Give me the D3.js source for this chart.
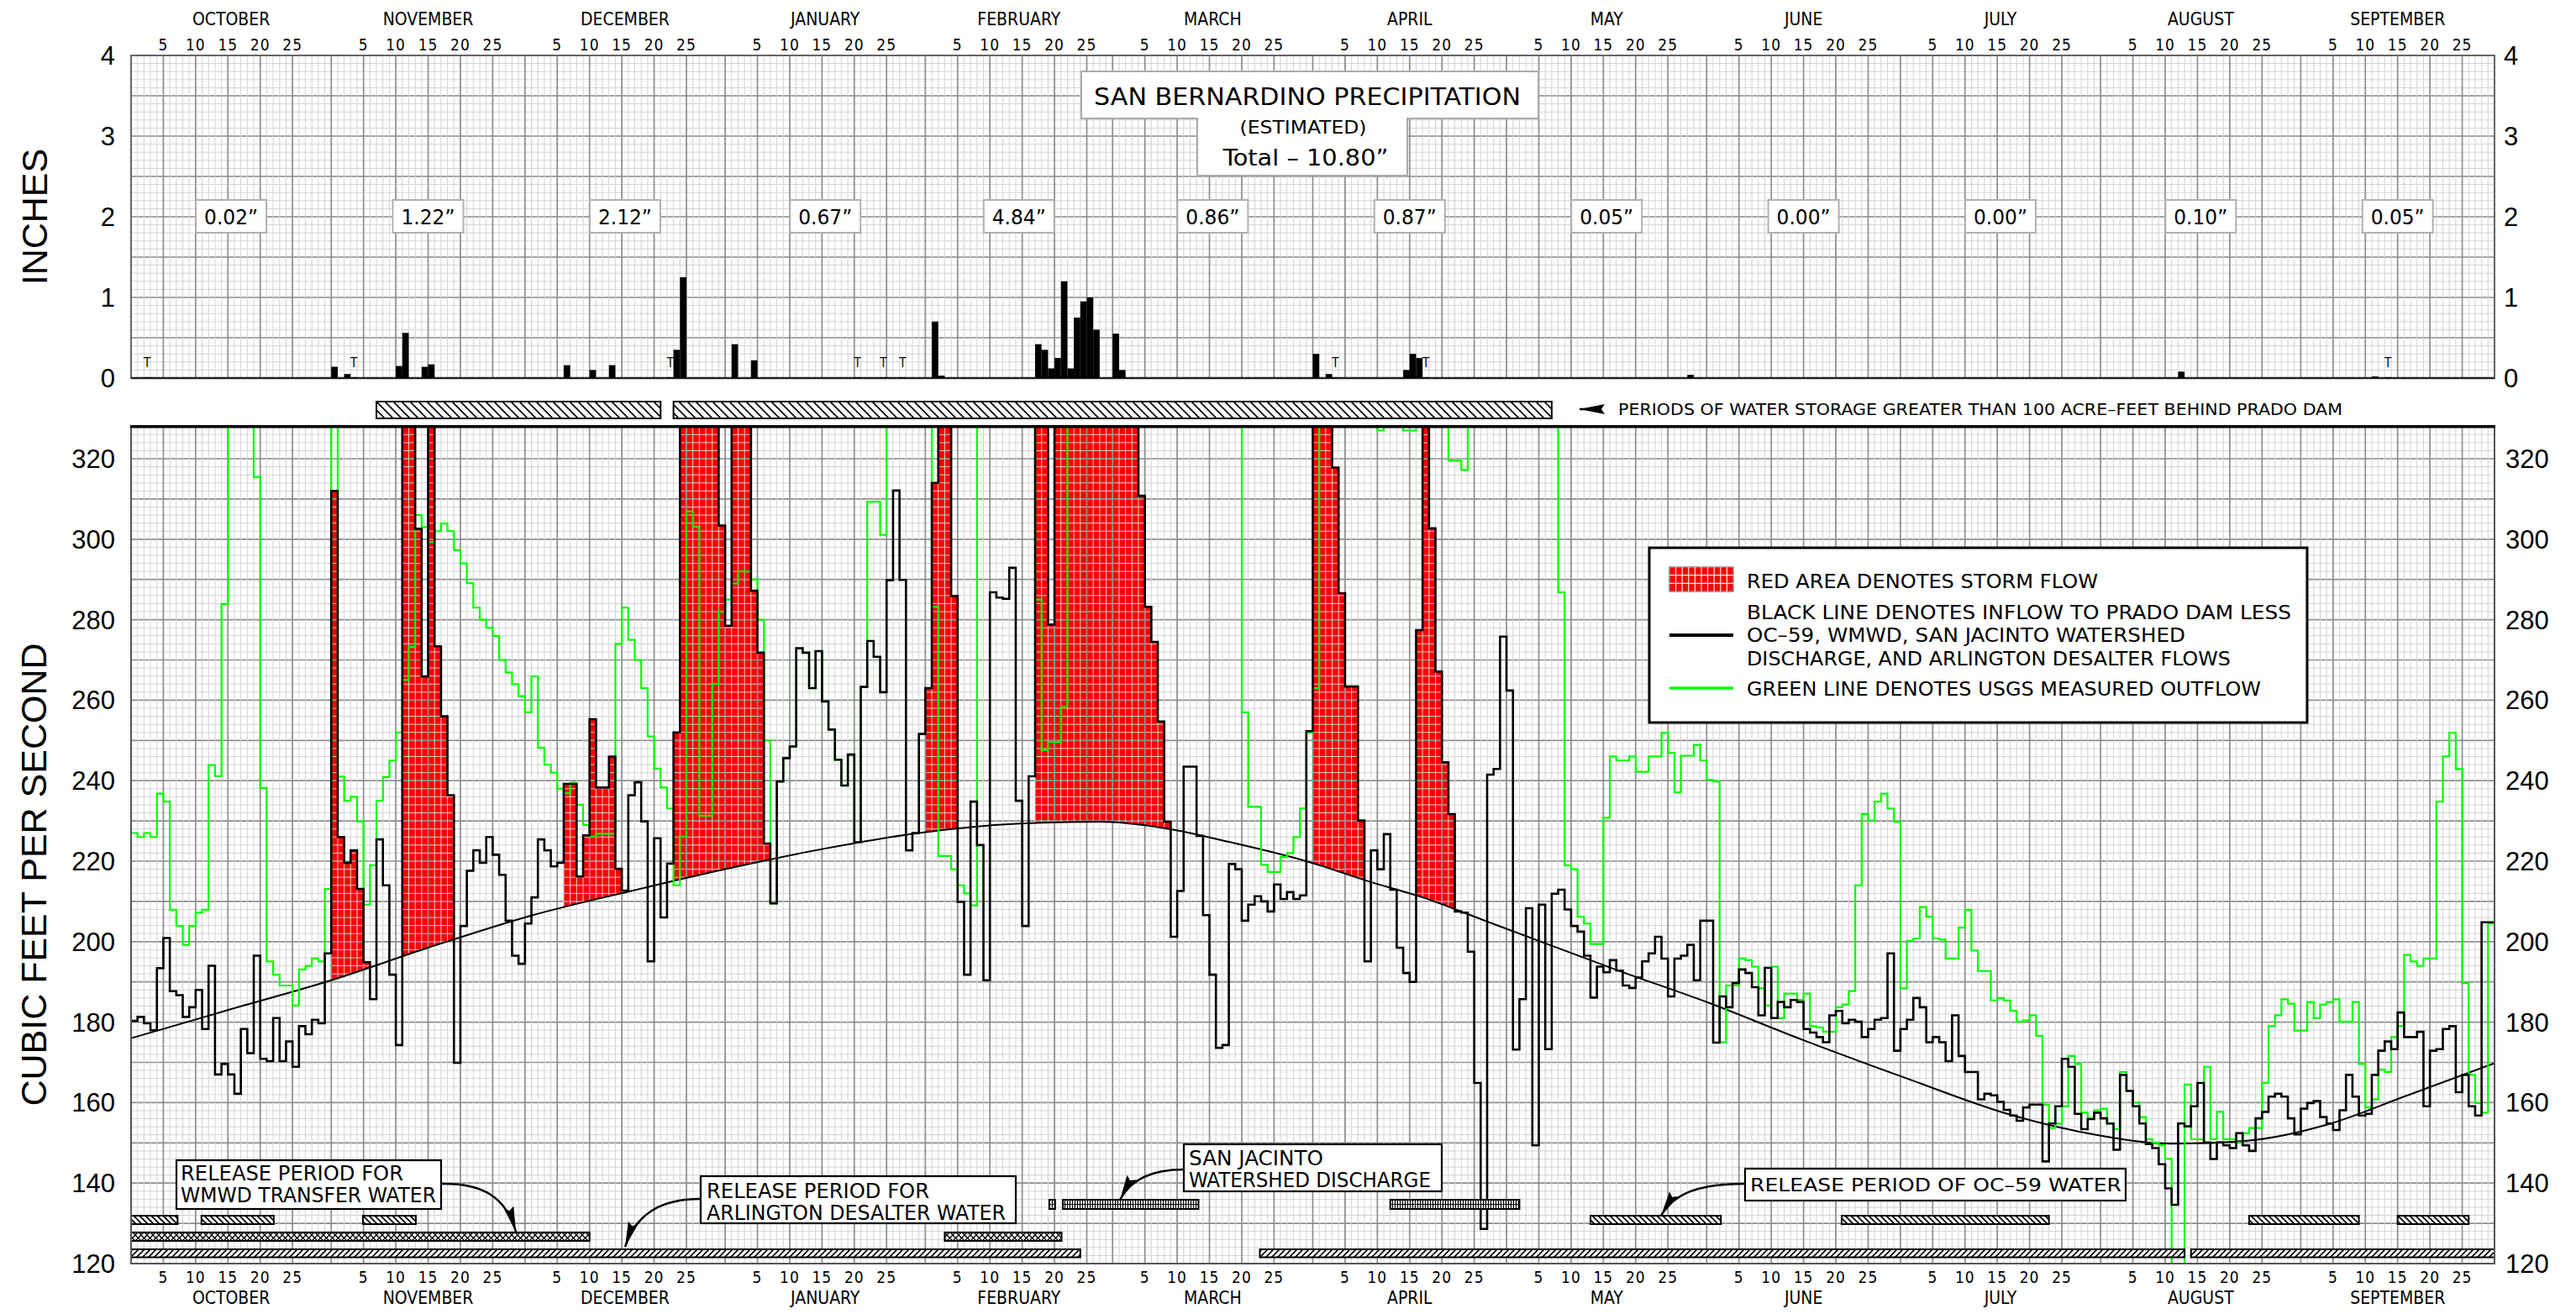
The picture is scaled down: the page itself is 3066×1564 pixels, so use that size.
<!DOCTYPE html>
<html><head><meta charset="utf-8">
<script src="https://cdn.jsdelivr.net/npm/d3@7"></script>
<style>body{margin:0;background:#fff}svg{display:block}</style>
</head><body>
<svg id="c" width="3066" height="1564"></svg>
<script>
// ---------------- DATA ----------------
const monthNames=["OCTOBER","NOVEMBER","DECEMBER","JANUARY","FEBRUARY","MARCH","APRIL","MAY","JUNE","JULY","AUGUST","SEPTEMBER"];
const monthLengths=[31,30,31,31,29,31,30,31,30,31,31,30];
const dayTicks=[5,10,15,20,25];
const monthTotals=["0.02\u201D","1.22\u201D","2.12\u201D","0.67\u201D","4.84\u201D","0.86\u201D","0.87\u201D","0.05\u201D","0.00\u201D","0.00\u201D","0.10\u201D","0.05\u201D"];
const inchTicks=[0,1,2,3,4];
const cfsTicks=[120,140,160,180,200,220,240,260,280,300,320];

// daily precipitation (day index from Oct 1, inches)
const precipDay=[2,31,33,34,41,42,45,46,67,71,74,83,84,85,93,96,112,116,119,124,125,140,141,142,143,144,145,146,147,148,149,152,153,183,185,186,197,198,199,200,241,317,347,349];
const precipAmt=[0.01,0.14,0.05,0.01,0.15,0.56,0.14,0.17,0.16,0.10,0.16,0.01,0.35,1.25,0.42,0.22,0.01,0.01,0.01,0.70,0.03,0.42,0.35,0.12,0.25,1.20,0.12,0.75,0.95,1.00,0.60,0.55,0.10,0.30,0.05,0.01,0.10,0.30,0.25,0.01,0.04,0.08,0.02,0.01];
const traceDays=[2,34,83,112,116,119,186,200,349];

// daily inflow (black line), cfs; 400 = off scale
const inflow=[
180.3,181.3,179.7,178,193.4,200.9,187.7,186.7,181.3,183.7,188,178.3,194,167,169.6,167,162.2,178.3,172.3,196.5,170.9,170.3,181,170.3,175.2,168.9,179,177,180.6,179.7,197.1,
312,226,219.6,222.7,213.1,194.9,185.7,225.4,214,191.8,174.3,400,400,302.6,265.9,400,273.4,256,236.4,169.9,203.9,217.6,222.7,219.6,226,221.6,216.6,205.2,196.5,194.5,
204.5,211,225.4,222.7,218.7,219.6,239.2,239.2,216.2,226.4,255.3,238.3,238.3,246,218.1,212.7,236.4,239.6,229.9,195.1,225.7,206,219.4,252,400,400,400,400,400,400,303.4,
278.5,400,400,400,287.2,271.8,224.4,209.5,239.8,245.6,248.5,272.9,271.8,263,272.2,259.7,252.7,245.2,238.8,246.5,224.7,263.3,274.7,270.8,262,289.8,312.1,289.9,222.7,227,
251.6,263,314,400,400,285.9,209.9,191.8,234.8,224,190.4,286.8,285.5,285.2,292.9,235,203.9,241.1,400,400,278.8,400,400,400,400,400,400,400,400,400,
400,400,400,400,310.8,283.2,274.5,254.7,229.8,201.2,212.6,243.5,243.5,226.3,206.6,191.8,173.6,174.3,219.3,218,205.2,209.2,211.3,210,207.5,214.2,210.6,212.3,210.6,211.5,252.3,
400,400,400,317.8,286.6,263.4,263.4,230.1,195.1,222.7,218,226.7,212.9,198.5,192.2,190,277.4,400,302.7,267.1,244.6,231.7,207.5,207.2,197.5,164.9,128.6,241.5,242.9,275.8,
262.4,173.2,185.7,208.3,149.4,209.2,173.3,211.9,212.9,208,203.9,202.5,196.5,186.1,193.8,192.4,195.4,192.8,189.1,188.5,191.1,195.1,197.1,201.2,195.8,186.4,195.8,196.5,199.2,190.4,205.2,
205.2,174.9,186.4,183.7,189.7,193.1,192.2,188.7,181.7,193.5,181,185,183.7,185.5,185,178.3,177.4,176.3,175,181.7,182.8,179.7,180.6,180.1,176.3,178.3,180.6,181,197.1,172.9,
178.3,180.6,186,183.7,175,176.3,175,170.3,181.7,171.6,167.6,167.6,160.8,162.2,161.8,160.2,158.2,156.8,155.5,158.8,159.5,159.5,145.4,154.8,159.1,170.9,168.9,157.2,153.4,155.9,157.5,
156.1,154.8,148.3,166.9,162.9,159.1,154.8,149.7,148.7,144.7,138.7,134.6,154.8,154.1,159.1,164.9,150.1,146,150.1,149.4,148.7,152.4,149.4,148,156.1,157.7,161.5,162.2,161.5,156.1,152.1,
158.5,159.9,160.4,156.4,154.8,153.2,158.1,166.9,161.5,156.8,157.2,166.9,172.9,175.2,173.3,182.4,176.3,176.3,177.6,159.1,172.9,173.3,178.3,179,162.6,166.9,159.1,156.8,204.8,204.8];

// daily USGS measured outflow (green line), cfs; 400 = off scale
const outflow=[
227,226,227,226,236.8,234.8,207.9,203.9,199.2,203.9,207.2,207.9,243.9,241.1,283.9,400,400,400,400,315.5,238.2,195.1,191.8,189.1,189.1,184.1,193.1,194,195.8,195.1,213.1,
400,241,235,236,229.9,209.2,219,235,240.9,245,252,265,273.2,306,303,299.3,302,303.9,302,297.3,294,289.1,283,280,278,276,270,266.9,264,261,
257,265.9,248.2,244,242,238,236.9,239.5,234,229,226.1,226.8,226.8,226.8,274,283,275,270,263,251,243,238.3,233.1,214,226.1,306.9,303.1,231.3,231.3,264,282,
285,289,292,292,290,280,250,209.5,239.8,245.6,248.5,272.9,271.8,263,272.2,259.7,252.7,245.2,238.8,246.5,224.7,263.3,309.3,309.3,301.1,400,400,400,400,400,
400,400,283.2,221.3,221.3,218,214,212,209,400,400,400,400,400,400,400,400,400,285,247.6,249.6,249.6,258.3,400,400,400,400,400,400,400,
400,400,400,400,400,400,400,400,400,400,400,400,400,400,400,400,400,400,400,400,257,233.5,233.5,219.1,217.3,217.3,221,222,226,233.1,251.9,
263,400,400,400,400,400,400,400,400,400,327,400,400,400,327,327,400,400,400,400,400,319.5,319.5,317.2,400,400,400,400,400,400,400,400,400,400,
400,400,400,400,286.8,219,218,206.2,204.5,199.4,199.4,230.8,246,245,245,246,242.2,242.2,246,246,251.9,246.9,237.1,246.2,246.2,248.9,245,240.2,
239.8,175,189.1,189.1,195.8,195.4,193.8,188.4,184.1,193.8,181,187.1,187.1,185.5,187.1,179,178.7,177.6,177.6,183.7,184.4,187.7,214,231.7,230.1,234.8,236.8,233.1,229.8,188.4,
200.2,200.8,208.6,206.2,200.8,200.5,195.8,195.8,203.5,207.9,197.8,192.7,192.7,185.4,186,185.4,182.8,180.1,180.4,181.7,176.6,159.5,153.7,154.8,159.1,171.6,169.6,157.5,156.1,158.1,158.5,
154.8,153.4,167.6,162.9,160,156.4,150.9,150.1,149.4,146,120,120,164.5,150.9,150.9,168.9,150.9,157.7,150.9,150.9,150.1,152.4,153.7,153.7,164.9,179,181.7,185.7,184.6,177.9,177.9,
185,181,184.4,185,185.7,180.1,180.1,185,169.6,158.8,160.8,168.2,167.6,176.3,179,196.7,195.1,194,195.8,195.8,234.8,246,251.9,242.9,189.7,166.9,159.9,157.5,204.5,204.5];

// baseline (smooth curve) read points [day, cfs]
const baseDay=[0,15,31,46,62,78,92,107,122,137,150,160,170,182,192,200,210,220,230,244,259,275,291,305,316,328,340,352,366];
const baseCfs=[176,183,190.4,198.5,206.5,212.8,218,223,227,229.3,229.8,228.2,224.8,220,214.8,211,205,199,193,185,175.5,166,157,151.8,149.8,150.6,154.5,161.5,169.8];

// storm periods (day ranges, inclusive)
const storms=[[31,36],[42,49],[67,75],[84,98],[123,127],[140,160],[183,190],[199,204]];
// storage > 100 AF
const storagePeriods=[[38,82],[84,220]];
// release periods
const releaseOC59=[[0,7.2],[10.9,22.1],[35.9,44.1],[226,246.2],[264.9,297],[328,345],[351,362]];
const releaseSJ=[[142.2,143.1],[144.3,165.3],[195,215]];
const releaseWMWD=[[0,71],[126,144.1]];
const releaseArl=[[0,147],[174.8,318],[319,366]];

// ---------------- DRAW ----------------
const NARROW="'Liberation Sans Narrow','Arial Narrow','DejaVu Sans Condensed',sans-serif";
const SANS="'Liberation Sans',Arial,sans-serif";
const X0=156,X1=2969;
const x=d3.scaleLinear().domain([0,366]).range([X0,X1]);
const yP=d3.scaleLinear().domain([0,4]).range([450,66]);
const yQ=d3.scaleLinear().domain([120,328]).range([1504,507.7]);
const svg=d3.select("#c");
svg.append("rect").attr("width",3066).attr("height",1564).attr("fill","#fff");
const defs=svg.append("defs");

const monthStart=[0];monthLengths.forEach((l,i)=>monthStart.push(monthStart[i]+l));

// patterns
function hatch(id,d,w,sw){
  const p=defs.append("pattern").attr("id",id).attr("patternUnits","userSpaceOnUse").attr("width",w).attr("height",w);
  p.append("rect").attr("width",w).attr("height",w).attr("fill","#fff");
  p.append("path").attr("d",d).attr("stroke","#000").attr("stroke-width",sw).attr("fill","none");
}
hatch("back","M-2,-2L12,12M-2,8L2,12M8,-2L12,2",10,1.6);
hatch("backS","M-2,-2L9,9M-2,5L2,9M5,-2L9,2",7,1.8);
hatch("fwd","M-2,9L9,-2M-2,2L2,-2M5,9L9,5",7,1.6);
hatch("cross","M0,0L7,7M0,7L7,0",7,1.3);
hatch("brick","M1.5,0V12M4.5,0V12M0,5.5H6",6,1.2);
defs.append("marker").attr("id","arr").attr("viewBox","0 0 30 12").attr("refX",30).attr("refY",6)
  .attr("markerWidth",30).attr("markerHeight",12).attr("markerUnits","userSpaceOnUse").attr("orient","auto")
  .append("path").attr("d","M0,0L30,6L0,12L4,6Z").attr("fill","#000");
defs.append("clipPath").attr("id","clipQ").append("rect").attr("x",X0).attr("y",yQ(328)).attr("width",X1-X0).attr("height",yQ(120)-yQ(328));
defs.append("clipPath").attr("id","clipP").append("rect").attr("x",X0).attr("y",yP(4)).attr("width",X1-X0).attr("height",yP(0)-yP(4));

function vgrid(g,y0,y1){
  const minor=d3.range(0,367);
  g.selectAll(null).data(minor).join("line").attr("x1",d=>x(d)).attr("x2",d=>x(d)).attr("y1",y0).attr("y2",y1).attr("stroke","#d3d3d3").attr("stroke-width",1);
  const major=[];monthStart.forEach((s,i)=>{major.push(s);if(i<12)dayTicks.forEach(t=>major.push(s+t));});
  g.selectAll(null).data(major).join("line").attr("x1",d=>x(d)).attr("x2",d=>x(d)).attr("y1",y0).attr("y2",y1).attr("stroke","#8e8e8e").attr("stroke-width",1.7);
}
function hgrid(g,y,lo,hi,minStep,majStep){
  const n=Math.round((hi-lo)/minStep);
  const minor=d3.range(0,n+1).map(i=>lo+i*minStep);
  g.selectAll(null).data(minor).join("line").attr("x1",X0).attr("x2",X1).attr("y1",d=>y(d)).attr("y2",d=>y(d)).attr("stroke","#d3d3d3").attr("stroke-width",1);
  const m=Math.floor((hi-lo)/majStep+1e-6);
  const major=d3.range(0,m+1).map(i=>lo+i*majStep);
  g.selectAll(null).data(major).join("line").attr("x1",X0).attr("x2",X1).attr("y1",d=>y(d)).attr("y2",d=>y(d)).attr("stroke","#8e8e8e").attr("stroke-width",1.7);
}

// ---- top panel
const gP=svg.append("g");
hgrid(gP,yP,0,4,0.1,0.5);
vgrid(gP,yP(4),yP(0));
gP.append("rect").attr("x",X0).attr("y",yP(4)).attr("width",X1-X0).attr("height",yP(0)-yP(4)).attr("fill","none").attr("stroke","#666").attr("stroke-width",2);
gP.append("line").attr("x1",X0).attr("x2",X1).attr("y1",yP(0)).attr("y2",yP(0)).attr("stroke","#222").attr("stroke-width",2.5);
gP.append("g").attr("clip-path","url(#clipP)").selectAll(null).data(precipDay).join("rect")
  .attr("x",d=>x(d)).attr("width",d=>x(d+1)-x(d)).attr("y",(d,i)=>yP(precipAmt[i])).attr("height",(d,i)=>yP(0)-yP(precipAmt[i])).attr("fill","#000");
gP.selectAll(null).data(traceDays).join("text").attr("x",d=>x(d+0.5)).attr("y",437).attr("text-anchor","middle")
  .attr("font-family",NARROW).attr("font-size",15).text("T");

// title box
gP.append("path").attr("d","M1287,85H1831V141H1675V209H1425V141H1287Z").attr("fill","#fff").attr("stroke","#aaa").attr("stroke-width",2);
const tt=[["SAN BERNARDINO PRECIPITATION",1556,125,28,508],["(ESTIMATED)",1551,159,21,151],["Total \u2013 10.80\u201D",1554,197,27,197]];
gP.selectAll(null).data(tt).join("text").attr("x",d=>d[1]).attr("y",d=>d[2]).attr("text-anchor","middle")
  .attr("font-family",NARROW).attr("font-size",d=>d[3]).attr("textLength",d=>d[4]).attr("lengthAdjust","spacingAndGlyphs").text(d=>d[0]);
// monthly totals
monthTotals.forEach((t,i)=>{
  const cx=x(monthStart[i]+monthLengths[i]/2);
  gP.append("rect").attr("x",cx-42).attr("y",yP(2)-20).attr("width",84).attr("height",39).attr("fill","#fff").attr("stroke","#b0b0b0").attr("stroke-width",2);
  gP.append("text").attr("x",cx).attr("y",yP(2)+8.5).attr("text-anchor","middle").attr("font-family",NARROW).attr("font-size",24)
    .attr("textLength",64).attr("lengthAdjust","spacingAndGlyphs").text(t);
});

// storage bars
svg.append("g").selectAll(null).data(storagePeriods).join("rect").attr("x",d=>x(d[0])).attr("width",d=>x(d[1])-x(d[0]))
  .attr("y",478).attr("height",20).attr("fill","url(#back)").attr("stroke","#000").attr("stroke-width",2);
svg.append("path").attr("d","M1905,487H1880").attr("stroke","#000").attr("stroke-width",2.5).attr("marker-end","url(#arr)");
svg.append("text").attr("x",1926).attr("y",494).attr("font-family",NARROW).attr("font-size",19).attr("textLength",862).attr("lengthAdjust","spacingAndGlyphs")
  .text("PERIODS OF WATER STORAGE GREATER THAN 100 ACRE\u2013FEET BEHIND PRADO DAM");

// ---- bottom panel
const gQ=svg.append("g").attr("clip-path","url(#clipQ)");
const baseLine=d3.line().x(d=>x(d[0])).y(d=>yQ(d[1])).curve(d3.curveMonotoneX);
const basePts=baseDay.map((d,i)=>[d,baseCfs[i]]);
const aboveBase=baseLine(basePts)+`L${X1},0L${X0},0Z`;
storms.forEach(([s,e],k)=>{
  let d=`M${x(s)},${yQ(120)}`;
  for(let i=s;i<=e;i++){d+=`L${x(i)},${yQ(inflow[i])}L${x(i+1)},${yQ(inflow[i])}`;}
  d+=`L${x(e+1)},${yQ(120)}Z`;
  defs.append("clipPath").attr("id","st"+k).append("path").attr("d",d);
  gQ.append("path").attr("d",aboveBase).attr("fill","#ff0000").attr("clip-path",`url(#st${k})`);
});
hgrid(gQ,yQ,120,328,2,10);
vgrid(gQ,yQ(328),yQ(120));

// release bars
const gR=svg.append("g");
function bars(data,y,h,fill){
  gR.selectAll(null).data(data).join("rect").attr("x",d=>x(d[0])).attr("width",d=>x(d[1])-x(d[0])).attr("y",y).attr("height",h)
    .attr("fill",fill).attr("stroke","#000").attr("stroke-width",2);
}
bars(releaseOC59,1447,10,"url(#backS)");
bars(releaseSJ,1428,11,"url(#brick)");
bars(releaseWMWD,1467,10,"url(#cross)");
bars(releaseArl,1487,9.5,"url(#fwd)");

// lines
const step=d3.line().x((d,i)=>x(i)).y(d=>yQ(d)).curve(d3.curveStepAfter);
gQ.append("path").attr("d",baseLine(basePts)).attr("fill","none").attr("stroke","#000").attr("stroke-width",2);
gQ.append("path").attr("d",step(outflow.concat([outflow[365]]))).attr("fill","none").attr("stroke","#00ff00").attr("stroke-width",2.2);
gQ.append("path").attr("d",step(inflow.concat([inflow[365]]))).attr("fill","none").attr("stroke","#000").attr("stroke-width",2.6);
svg.append("rect").attr("x",X0).attr("y",yQ(328)).attr("width",X1-X0).attr("height",yQ(120)-yQ(328)).attr("fill","none").attr("stroke","#555").attr("stroke-width",2);
svg.append("line").attr("x1",X0-1).attr("x2",X1+1).attr("y1",yQ(328)).attr("y2",yQ(328)).attr("stroke","#000").attr("stroke-width",3.5);

// annotations
const notes=[
  {box:[210,1381,315,58],lines:[["RELEASE PERIOD FOR",215,1405,265],["WMWD TRANSFER WATER",215,1431,304]],fs:24,arrow:"M525,1409C575,1408 602,1425 614,1466"},
  {box:[834,1400,375,56],lines:[["RELEASE PERIOD FOR",841,1426,265],["ARLINGTON DESALTER WATER",841,1452,356]],fs:24,arrow:"M834,1427C790,1427 758,1442 744,1484"},
  {box:[1409,1362,307,56],lines:[["SAN JACINTO",1415,1387,160],["WATERSHED DISCHARGE",1415,1413,288]],fs:24,arrow:"M1409,1392C1368,1392 1345,1405 1333,1428"},
  {box:[2077,1391,453,38],lines:[["RELEASE PERIOD OF OC\u201359 WATER",2083,1418,442]],fs:21,arrow:"M2077,1409C2022,1409 1993,1420 1977,1447"}
];
notes.forEach(n=>{
  svg.append("path").attr("d",n.arrow).attr("fill","none").attr("stroke","#000").attr("stroke-width",2.5).attr("marker-end","url(#arr)");
  svg.append("rect").attr("x",n.box[0]).attr("y",n.box[1]).attr("width",n.box[2]).attr("height",n.box[3]).attr("fill","#fff").attr("stroke","#000").attr("stroke-width",2.2);
  n.lines.forEach(l=>svg.append("text").attr("x",l[1]).attr("y",l[2]).attr("font-family",NARROW).attr("font-size",n.fs)
    .attr("textLength",l[3]).attr("lengthAdjust","spacingAndGlyphs").text(l[0]));
});

// legend
const gL=svg.append("g");
gL.append("rect").attr("x",1963).attr("y",652).attr("width",783).attr("height",208).attr("fill","#fff").attr("stroke","#000").attr("stroke-width",3);
gL.append("rect").attr("x",1987).attr("y",675).attr("width",76).attr("height",29).attr("fill","#ff0000").attr("stroke","#888").attr("stroke-width",1.5);
gL.selectAll(null).data(d3.range(1,10)).join("line").attr("x1",d=>1987+d*7.6).attr("x2",d=>1987+d*7.6).attr("y1",675).attr("y2",704).attr("stroke","#eee").attr("stroke-width",1.2);
gL.selectAll(null).data(d3.range(1,3)).join("line").attr("x1",1987).attr("x2",2063).attr("y1",d=>675+d*9.7).attr("y2",d=>675+d*9.7).attr("stroke","#eee").attr("stroke-width",1.2);
gL.append("line").attr("x1",1987).attr("x2",2063).attr("y1",756).attr("y2",756).attr("stroke","#000").attr("stroke-width",4);
gL.append("line").attr("x1",1987).attr("x2",2063).attr("y1",819).attr("y2",819).attr("stroke","#00ff00").attr("stroke-width",3.5);
const lt=[["RED AREA DENOTES STORM FLOW",700,418],["BLACK LINE DENOTES INFLOW TO PRADO DAM LESS",737,648],["OC\u201359, WMWD, SAN JACINTO WATERSHED",764,522],["DISCHARGE, AND ARLINGTON DESALTER FLOWS",792,576],["GREEN LINE DENOTES USGS MEASURED OUTFLOW",828,612]];
gL.selectAll(null).data(lt).join("text").attr("x",2079).attr("y",d=>d[1]).attr("font-family",NARROW).attr("font-size",23)
  .attr("textLength",d=>d[2]).attr("lengthAdjust","spacingAndGlyphs").text(d=>d[0]);

// axes labels
const gA=svg.append("g").attr("font-family",NARROW);
monthNames.forEach((m,i)=>{
  const cx=x(monthStart[i]+monthLengths[i]/2);
  gA.append("text").attr("x",cx).attr("y",29.5).attr("text-anchor","middle").attr("font-size",21).text(m);
  gA.append("text").attr("x",cx).attr("y",1551.5).attr("text-anchor","middle").attr("font-size",21).text(m);
  dayTicks.forEach(t=>{
    gA.append("text").attr("x",x(monthStart[i]+t)).attr("y",59.5).attr("text-anchor","middle").attr("font-size",19).attr("letter-spacing",1).text(t);
    gA.append("text").attr("x",x(monthStart[i]+t)).attr("y",1526.5).attr("text-anchor","middle").attr("font-size",19).attr("letter-spacing",1).text(t);
  });
});
const gY=svg.append("g").attr("font-family",SANS).attr("font-size",31);
inchTicks.forEach(v=>{
  gY.append("text").attr("x",137).attr("y",yP(v)+11).attr("text-anchor","end").text(v);
  gY.append("text").attr("x",2980).attr("y",yP(v)+11).attr("text-anchor","start").text(v);
});
cfsTicks.forEach(v=>{
  gY.append("text").attr("x",137).attr("y",yQ(v)+11).attr("text-anchor","end").text(v);
  gY.append("text").attr("x",2982).attr("y",yQ(v)+11).attr("text-anchor","start").text(v);
});
svg.append("text").attr("transform","translate(56,258) rotate(-90)").attr("text-anchor","middle").attr("font-family",SANS).attr("font-size",43).text("INCHES");
svg.append("text").attr("transform","translate(55,1041) rotate(-90)").attr("text-anchor","middle").attr("font-family",SANS).attr("font-size",43).text("CUBIC FEET PER SECOND");
</script>
</body></html>
